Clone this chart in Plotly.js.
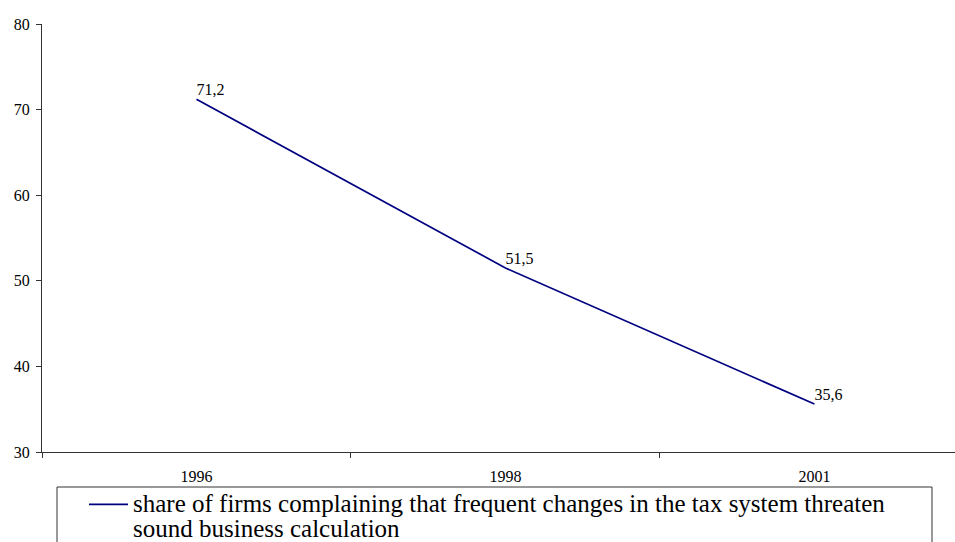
<!DOCTYPE html>
<html>
<head>
<meta charset="utf-8">
<script src="https://cdn.plot.ly/plotly-3.0.1.min.js"></script>
<style>html,body{margin:0;padding:0;background:#fff;}#chart{width:955px;height:542px;}</style>
</head>
<body>
<div id="chart"></div>
<script>
const years = ["1996", "1998", "2001"];
const shareValues = [71.2, 51.5, 35.6];
const nameLines = ["share of firms complaining that frequent changes in the tax system threaten", "sound business calculation"];
const yTicks = [30, 40, 50, 60, 70, 80];

const serif = "Liberation Serif, Times New Roman, serif";
const seriesName = nameLines.map(function (s) { return '<span style="font-size:25px">' + s + '</span>'; }).join("<br>");

const trace = {
  x: years,
  y: shareValues,
  type: "scatter",
  mode: "lines+text",
  name: seriesName,
  line: {color: "#000080", width: 1.7},
  texttemplate: "%{y:.1f}",
  textposition: "top right",
  textfont: {family: serif, size: 16, color: "#000"},
  cliponaxis: false
};

const layout = {
  width: 955,
  height: 542,
  margin: {l: 42, r: 0, t: 24, b: 90, autoexpand: false},
  separators: ", ",
  paper_bgcolor: "#fff",
  plot_bgcolor: "#fff",
  font: {family: serif, size: 16, color: "#000"},
  showlegend: true,
  xaxis: {
    type: "category",
    range: [-0.5, 2.455],
    showgrid: false,
    zeroline: false,
    showline: true,
    linecolor: "#333",
    linewidth: 1,
    ticks: "outside",
    tickson: "boundaries",
    ticklen: 5,
    tickcolor: "#333",
    ticklabelstandoff: 10,
    tickfont: {family: serif, size: 16}
  },
  yaxis: {
    range: [30, 80],
    tickvals: yTicks,
    showgrid: false,
    zeroline: false,
    showline: true,
    linecolor: "#333",
    linewidth: 1,
    ticks: "outside",
    ticklen: 5,
    tickcolor: "#333",
    ticklabelstandoff: 3,
    tickfont: {family: serif, size: 16}
  },
  legend: {
    x: 0.046,
    y: -0.078,
    xanchor: "left",
    yanchor: "top",
    borderwidth: 0,
    bgcolor: "rgba(0,0,0,0)",
    valign: "top",
    font: {family: serif, size: 19.2, color: "#000"},
    itemwidth: 39
  },
  shapes: [{
    type: "rect",
    xref: "paper",
    yref: "paper",
    x0: 0.01643,
    x1: 0.9748,
    y0: -0.0818,
    y1: -0.3,
    line: {color: "#333", width: 1},
    fillcolor: "rgba(0,0,0,0)",
    layer: "below"
  }]
};

Plotly.newPlot("chart", [trace], layout, {displayModeBar: false, staticPlot: true});
</script>
</body>
</html>
